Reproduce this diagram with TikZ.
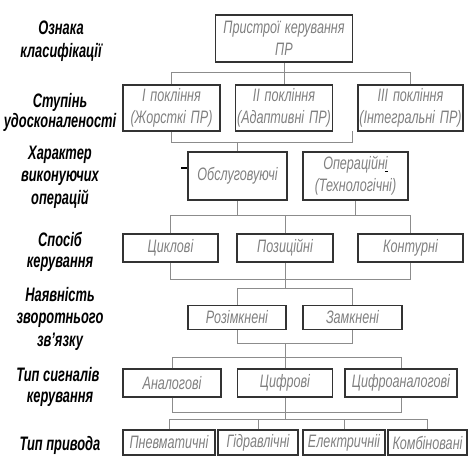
\documentclass[tikz,border=0pt]{standalone}
\usepackage{fontspec}
\newfontfamily\boxfont[FakeStretch=0.7,WordSpace=1.4]{Liberation Sans}
\newfontfamily\labfont[FakeStretch=0.66]{Liberation Sans}
\begin{document}
\begin{tikzpicture}[x=1pt,y=-1pt,
  box/.style={draw=black!80, line width=1.5pt, text=black!50, align=center, inner sep=0pt,
    font=\boxfont\itshape\fontsize{18}{22}\selectfont},
  wire/.style={draw=black!45, line width=0.8pt},
  lab/.style={inner sep=0pt, text height=14pt, text depth=0pt,
    font=\labfont\bfseries\itshape\fontsize{19.5}{22}\selectfont}]
\useasboundingbox (0,0) rectangle (468,456);
% left labels
\node[lab] (l1a) at (61,27) {Ознака};
\node[lab] (l1b) at (61,50) {класифікації};
\node[lab] (l2a) at (60,100) {Ступінь};
\node[lab] (l2b) at (60,120) {удосконаленості};
\node[lab] (l3a) at (60,152) {Характер};
\node[lab] (l3b) at (60,174) {виконуючих};
\node[lab] (l3c) at (60,197) {операцій};
\node[lab] (l4a) at (60,239) {Спосіб};
\node[lab] (l4b) at (60,260) {керування};
\node[lab] (l5a) at (60,294) {Наявність};
\node[lab] (l5b) at (60,316) {зворотнього};
\node[lab] (l5c) at (60,339) {зв’язку};
\node[lab] (l6a) at (58,374) {Тип сигналів};
\node[lab] (l6b) at (60,395) {керування};
\node[lab] (l7a) at (60,443) {Тип привода};
% boxes
\node[box, minimum width=137pt, minimum height=47pt] (top) at (284,38.5) {Пристрої керування\\ПР};
\node[box, minimum width=97pt, minimum height=46pt] (ga) at (171.5,108) {I покління\\(Жорсткі ПР)};
\node[box, minimum width=97pt, minimum height=46pt] (gb) at (284,108) {II покління\\(Адаптивні ПР)};
\node[box, minimum width=105pt, minimum height=46pt] (gc) at (410.5,108) {III покління\\(Інтегральні ПР)};
\node[box, minimum width=99pt, minimum height=48pt] (obs) at (237.5,176) {Обслуговуючі};
\node[box, minimum width=105pt, minimum height=48pt] (oper) at (355.5,176) {Операційн\textcolor{black}{\underline{\textcolor{black!50}{і}}}\\(Технологічні)};
\node[box, minimum width=95pt, minimum height=28pt] (cyk) at (170.5,248) {Циклові};
\node[box, minimum width=96pt, minimum height=28pt] (poz) at (285,248) {Позиційні};
\node[box, minimum width=105pt, minimum height=28pt] (kont) at (410.5,248) {Контурні};
\node[box, minimum width=98pt, minimum height=24pt] (rozim) at (237,317.5) {Розімкнені};
\node[box, minimum width=99pt, minimum height=24pt] (zamk) at (352.5,317.5) {Замкнені};
\node[box, minimum width=98pt, minimum height=28pt] (anal) at (172,383) {Аналогові};
\node[box, minimum width=95pt, minimum height=28pt] (cyfr) at (285,383) {Цифрові};
\node[box, minimum width=112pt, minimum height=28pt] (cyfran) at (401,383) {Цифроаналогові};
\node[box, minimum width=92pt, minimum height=25pt] (pnev) at (169,442.5) {Пневматичні};
\node[box, minimum width=80pt, minimum height=25pt] (gidr) at (258,442.5) {Гідравлічні};
\node[box, minimum width=82pt, minimum height=25pt] (elek) at (344,442.5) {Електричніі};
\node[box, minimum width=79pt, minimum height=25pt] (komb) at (427.5,442.5) {Комбіновані};
% bus levels
\coordinate (b1) at (0,72);
\coordinate (b2) at (0,142);
\coordinate (b3) at (0,215);
\coordinate (b4) at (0,279);
\coordinate (b5) at (0,288);
\coordinate (b6) at (0,343);
\coordinate (b7) at (0,357);
\coordinate (b8) at (0,412);
\coordinate (b9) at (0,419);
\coordinate (s2) at (352,131);
% connectors
\draw[wire] (top.south) -- (gb.north);
\draw[wire] (ga.north) |- (gc.north |- b1) -- (gc.north);
\draw[wire] (ga.south) |- (s2 |- b2) -- (s2);
\draw[wire] (obs.north) -- (obs.north |- b2);
\draw[wire] (obs.south) -- (obs.south |- b3);
\draw[wire] (oper.south) -- (oper.south |- b3);
\draw[wire] (cyk.north) |- (kont.north |- b3) -- (kont.north);
\draw[wire] (poz.north) -- (poz.north |- b3);
\draw[wire] (cyk.south) |- (kont.south |- b4) -- (kont.south);
\draw[wire] (poz.south) -- (poz.south |- b5);
\draw[wire] (rozim.north) |- (zamk.north |- b5) -- (zamk.north);
\draw[wire] (rozim.south) |- (zamk.south |- b6) -- (zamk.south);
\draw[wire] (cyfr.north) -- (cyfr.north |- b6);
\draw[wire] (anal.north) |- (cyfran.north |- b7) -- (cyfran.north);
\draw[wire] (anal.south) |- (cyfran.south |- b8) -- (cyfran.south);
\draw[wire] (cyfr.south) -- (cyfr.south |- b9);
\draw[wire] (pnev.north) |- (komb.north |- b9) -- (komb.north);
\draw[wire] (gidr.north) -- (gidr.north |- b9);
\draw[wire] (elek.north) -- (elek.north |- b9);
% small dash
\draw[black, line width=1.3pt] ([shift={(-6,-8)}]obs.west) -- ([shift={(0,-8)}]obs.west);
\end{tikzpicture}
\end{document}
